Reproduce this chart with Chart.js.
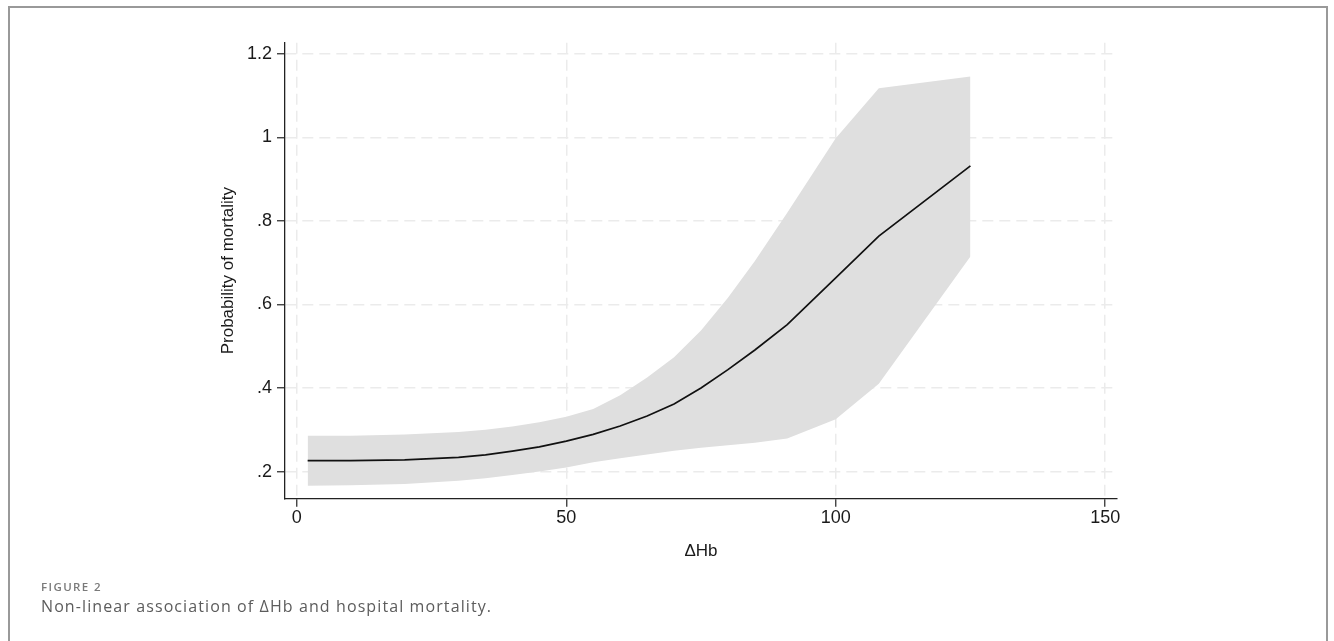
<!DOCTYPE html>
<html lang="en">
<head>
    <meta charset="UTF-8">
    <title>Figure 2</title>
    <script src="https://cdn.jsdelivr.net/npm/chart.js"></script>
    <style>
        body {
            margin: 0;
            padding: 0;
            background: #fff;
            width: 1334px;
            height: 641px;
            overflow: hidden;
            position: relative;
        }

        .frame {
            position: absolute;
            left: 8px;
            top: 6px;
            width: 1320px;
            height: 700px;
            border: 2px solid #999;
            box-sizing: border-box;
        }

        #chart {
            position: absolute;
            left: 0;
            top: 0;
        }

        .caption {
            position: absolute;
            left: 41px;
            font-family: 'Open Sans', sans-serif;
            white-space: nowrap;
        }

        .caption-label {
            top: 579px;
            font-size: 11.5px;
            font-weight: 600;
            letter-spacing: 1.4px;
            color: #7a7a7a;
        }

        .caption-text {
            top: 595px;
            font-size: 16px;
            letter-spacing: 1.1px;
            color: #5c5c5c;
        }
    </style>
</head>
<body>
<div class="frame"></div>
<canvas id="chart" width="1334" height="641"></canvas>
<div class="caption caption-label">FIGURE 2</div>
<div class="caption caption-text">Non-linear association of ΔHb and hospital mortality.</div>

<script>
    // ΔHb values where the fitted curve was evaluated
    const hb = [2, 10, 20, 30, 35, 40, 45, 50, 55, 60, 65, 70, 75, 80, 85, 91, 100, 108, 125];
    // predicted probability of mortality
    const prob = [0.226, 0.226, 0.228, 0.234, 0.240, 0.249, 0.259, 0.273, 0.289, 0.309, 0.333, 0.362, 0.400, 0.444, 0.491, 0.552, 0.664, 0.764, 0.932];
    // 95% CI limits
    const upper = [0.2855, 0.286, 0.289, 0.295, 0.300, 0.308, 0.318, 0.331, 0.350, 0.383, 0.425, 0.474, 0.538, 0.616, 0.704, 0.820, 0.998, 1.118, 1.146];
    const lower = [0.166, 0.167, 0.170, 0.178, 0.184, 0.192, 0.200, 0.210, 0.222, 0.232, 0.241, 0.250, 0.257, 0.263, 0.269, 0.279, 0.325, 0.410, 0.715];

    const xTicks = [0, 50, 100, 150];
    const xTickLabels = ['0', '50', '100', '150'];
    const yTicks = [0.2, 0.4, 0.6, 0.8, 1.0, 1.2];
    const yTickLabels = ['.2', '.4', '.6', '.8', '1', '1.2'];

    const pts = ys => hb.map((x, i) => ({x: x, y: ys[i]}));

    const axisFont = {family: "'Liberation Sans', Arial, sans-serif", size: 18};
    const titleFont = {family: "'Liberation Sans', Arial, sans-serif", size: 17};

    const gridOpts = {
        color: '#ebebeb',
        lineWidth: 1.5,
        tickLength: 8,
        tickColor: '#333',
        tickWidth: 1.3,
        tickBorderDash: []
    };
    const borderOpts = {
        display: true,
        color: '#222',
        width: 1.3,
        dash: [11, 6]
    };

    const ctx = document.getElementById('chart').getContext('2d');
    new Chart(ctx, {
        type: 'line',
        data: {
            datasets: [
                {
                    label: 'prob',
                    data: pts(prob),
                    borderColor: '#111',
                    borderWidth: 1.7,
                    pointRadius: 0,
                    fill: false,
                    order: 0
                },
                {
                    label: 'upper',
                    data: pts(upper),
                    borderWidth: 0,
                    pointRadius: 0,
                    backgroundColor: '#dfdfdf',
                    fill: '+1',
                    order: 1
                },
                {
                    label: 'lower',
                    data: pts(lower),
                    borderWidth: 0,
                    pointRadius: 0,
                    fill: false,
                    order: 2
                }
            ]
        },
        options: {
            responsive: false,
            animation: false,
            layout: {
                padding: {left: 218, top: 42.7, right: 217, bottom: 79.8}
            },
            plugins: {
                legend: {display: false},
                tooltip: {enabled: false}
            },
            scales: {
                x: {
                    type: 'linear',
                    min: -2.2,
                    max: 152.2,
                    afterBuildTicks: scale => {
                        scale.ticks = xTicks.map(v => ({value: v}));
                    },
                    afterFit: scale => {
                        scale.height = 62.5;
                    },
                    ticks: {
                        color: '#1a1a1a',
                        font: axisFont,
                        padding: 1,
                        maxRotation: 0,
                        autoSkip: false,
                        callback: (v, i) => xTickLabels[i]
                    },
                    grid: gridOpts,
                    border: borderOpts,
                    title: {
                        display: true,
                        text: 'ΔHb',
                        color: '#1a1a1a',
                        font: titleFont,
                        padding: {top: 0, bottom: 0}
                    }
                },
                y: {
                    type: 'linear',
                    min: 0.135,
                    max: 1.227,
                    afterBuildTicks: scale => {
                        scale.ticks = yTicks.map(v => ({value: v}));
                    },
                    afterFit: scale => {
                        scale.width = 67;
                    },
                    ticks: {
                        color: '#1a1a1a',
                        font: axisFont,
                        padding: 5,
                        autoSkip: false,
                        callback: (v, i) => yTickLabels[i]
                    },
                    grid: gridOpts,
                    border: borderOpts,
                    title: {
                        display: true,
                        text: 'Probability of mortality',
                        color: '#1a1a1a',
                        font: titleFont,
                        padding: {top: 0, bottom: 0}
                    }
                }
            }
        }
    });
</script>
</body>
</html>
